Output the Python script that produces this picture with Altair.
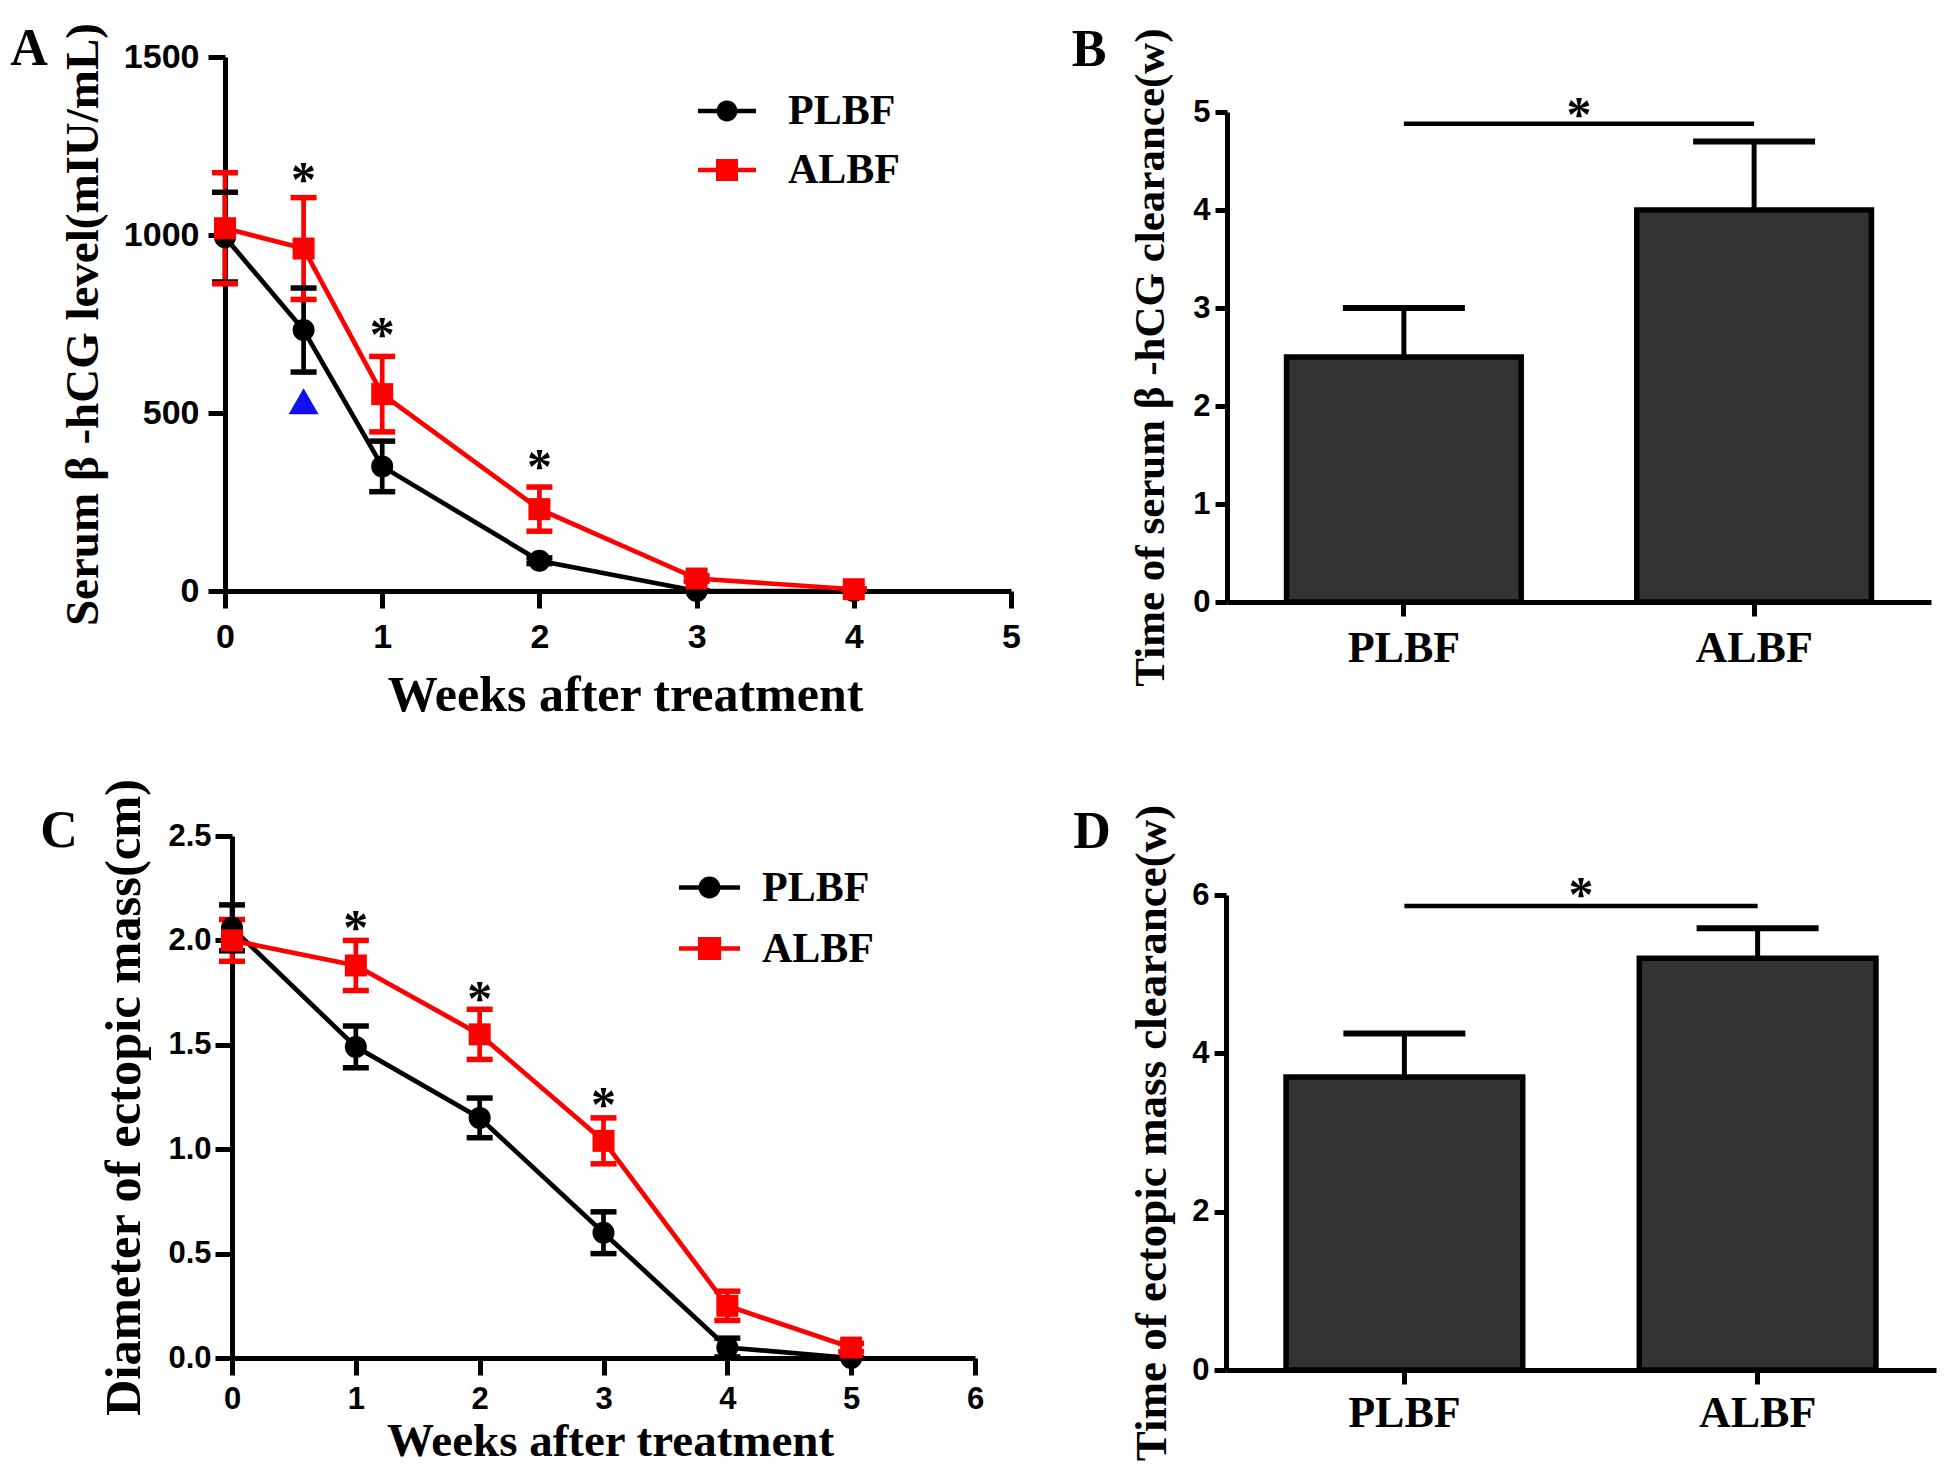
import altair as alt
import pandas as pd

# ---------------- data ----------------
SERIES = ["PLBF", "ALBF"]
SERIES_COLORS = ["#000000", "#ff0000"]
POINT_SHAPES = ["circle", "square"]
PANEL_LETTERS = ["A", "B", "C", "D"]

# Panel A: serum beta-hCG
A_WEEKS = [0, 0.5, 1, 2, 3, 4]
A_PLBF_MEAN = [994, 733, 350, 85, 0, 0]
A_PLBF_SD = [126, 118, 71, 8, 0, 0]
A_ALBF_MEAN = [1019, 962, 553, 230, 35, 5]
A_ALBF_SD = [156, 143, 106, 62, 8, 0]
A_STAR_WEEKS = [0.5, 1, 2]
A_STAR_LEVELS = [1176, 741, 370]
A_TRI_WEEKS = [0.5]
A_TRI_LEVELS = [533]
A_X_TICKS = [0, 1, 2, 3, 4, 5]
A_Y_TICKS = [0, 500, 1000, 1500]

# Panel C: ectopic mass diameter
C_WEEKS = [0, 1, 2, 3, 4, 5]
C_PLBF_MEAN = [2.06, 1.49, 1.15, 0.60, 0.05, 0.0]
C_PLBF_SD = [0.11, 0.10, 0.095, 0.10, 0.045, 0.0]
C_ALBF_MEAN = [2.00, 1.88, 1.55, 1.04, 0.25, 0.05]
C_ALBF_SD = [0.10, 0.12, 0.12, 0.11, 0.07, 0.02]
C_STAR_WEEKS = [1, 2, 3]
C_STAR_LEVELS = [2.10, 1.76, 1.25]
C_X_TICKS = [0, 1, 2, 3, 4, 5, 6]
C_Y_TICKS = [0, 0.5, 1.0, 1.5, 2.0, 2.5]

# Panel B: time of hCG clearance
B_MEAN = [2.5, 4.0]
B_SD = [0.5, 0.7]
B_SIG_LEVEL = [4.88]
B_STAR_LEVEL = [5.05]
B_Y_TICKS = [0, 1, 2, 3, 4, 5]

# Panel D: time of mass clearance
D_MEAN = [3.7, 5.2]
D_SD = [0.55, 0.38]
D_SIG_LEVEL = [5.86]
D_STAR_LEVEL = [6.10]
D_Y_TICKS = [0, 2, 4, 6]

# ---------------- layout / style ----------------
W, H = 1929, 1460
SANS = "Liberation Sans"
SERIF = "Liberation Serif"

LEG_CIRCLE = ("M-1,-0.075L-0.3,-0.075L-0.3,0.075L-1,0.075Z "
              "M0.3,-0.075L1,-0.075L1,0.075L0.3,0.075Z "
              "M0.36,0A0.36,0.36 0 1,1 -0.36,0A0.36,0.36 0 1,1 0.36,0Z")
LEG_SQUARE = ("M-1,-0.075L-0.3,-0.075L-0.3,0.075L-1,0.075Z "
              "M0.3,-0.075L1,-0.075L1,0.075L0.3,0.075Z "
              "M-0.38,-0.38L0.38,-0.38L0.38,0.38L-0.38,0.38Z")

AXIS_BASE = dict(grid=False, domainColor="black", tickColor="black", labelColor="black",
                 titleColor="black", domainWidth=5, tickWidth=5, labelFontWeight="bold",
                 titleFontWeight="bold", titleFont=SERIF, labelOverlap=False)

LAYOUT = {
    "A": dict(x_range=[217, 1003], y_range=[583, 49], x_dom=[0, 5], y_dom=[0, 1500],
              label_size=34, y_tick=17, y_label_pad=9, x_tick=17, x_label_pad=12,
              y_title_x=-142, y_title_size=47, x_title_x=617, x_title_y=119, x_title_size=50,
              pt_size=484, leg_x=690, leg_y=74, leg_size=3364, leg_label_off=32, leg_row=9),
    "C": dict(x_range=[224, 967], y_range=[1350, 828], x_dom=[0, 6], y_dom=[0, 2.5],
              label_size=31, y_tick=17, y_label_pad=4, x_tick=17, x_label_pad=9,
              y_title_x=-108, y_title_size=50.5, x_title_x=602, x_title_y=97, x_title_size=47,
              pt_size=484, leg_x=671, leg_y=849, leg_size=3721, leg_label_off=22, leg_row=9),
    "B": dict(x_range=[1219, 1923], y_range=[594, 104], y_dom=[0, 5], label_size=31,
              y_tick=12, y_label_pad=5, x_tick=14, x_label_pad=10, y_title_x=-77, y_title_size=43),
    "D": dict(x_range=[1218, 1928], y_range=[1362, 887], y_dom=[0, 6], label_size=31,
              y_tick=12, y_label_pad=5, x_tick=14, x_label_pad=7, y_title_x=-75, y_title_size=45),
}
LETTER_POS = {"A": (21, 41), "B": (1081, 42), "C": (51, 823), "D": (1084, 824)}
PAD_INNER, PAD_OUTER = 0.33, 0.17


def make_line_df(weeks, pm, psd, am, asd):
    rows = []
    for name, means, sds in ((SERIES[0], pm, psd), (SERIES[1], am, asd)):
        for w, m, s in zip(weeks, means, sds):
            rows.append({"week": w, "series": name, "mean": m, "lower": m - s, "upper": m + s})
    return pd.DataFrame(rows)


def line_panel(df, star_df, tri_df, lay, x_ticks, y_ticks, y_fmt, y_title, x_title):
    x_scale = alt.Scale(domain=lay["x_dom"], range=lay["x_range"], nice=False, zero=False)
    y_scale = alt.Scale(domain=lay["y_dom"], range=lay["y_range"], nice=False, zero=False)
    y_axis = alt.Axis(orient="left", offset=-lay["x_range"][0], values=y_ticks, format=y_fmt,
                      title=y_title, titleX=lay["y_title_x"], titleBaseline="middle",
                      titleFontSize=lay["y_title_size"], labelFont=SANS,
                      labelFontSize=lay["label_size"], labelPadding=lay["y_label_pad"],
                      tickSize=lay["y_tick"], **AXIS_BASE)
    x_axis = alt.Axis(orient="bottom", offset=lay["y_range"][0] - H, values=x_ticks, format="d",
                      title=x_title, titleX=lay["x_title_x"], titleY=lay["x_title_y"],
                      titleBaseline="alphabetic", titleFontSize=lay["x_title_size"],
                      labelFont=SANS, labelFontSize=lay["label_size"], labelPadding=lay["x_label_pad"],
                      tickSize=lay["x_tick"], labelFlush=False, **AXIS_BASE)
    X = alt.X("week:Q", scale=x_scale, axis=x_axis)

    def Y(f):
        return alt.Y(f, type="quantitative", scale=y_scale, axis=y_axis)

    col = alt.Color("series:N", scale=alt.Scale(domain=SERIES, range=SERIES_COLORS), legend=None)
    line = alt.Chart(df).mark_line(strokeWidth=4.7).encode(x=X, y=Y("mean"), color=col)
    rules = alt.Chart(df).mark_rule(strokeWidth=4.7).encode(x=X, y=Y("lower"), y2="upper:Q", color=col)
    caps = (alt.Chart(df).transform_fold(["lower", "upper"], as_=["bound", "level"])
            .mark_tick(orient="horizontal", size=26, thickness=5.5, opacity=1)
            .encode(x=X, y=Y("level"), color=col))
    points = alt.Chart(df).mark_point(filled=True, size=lay["pt_size"], opacity=1).encode(
        x=X, y=Y("mean"), color=col,
        shape=alt.Shape("series:N", scale=alt.Scale(domain=SERIES, range=POINT_SHAPES), legend=None))
    stars = alt.Chart(star_df).mark_text(text="*", font=SERIF, fontWeight="bold", fontSize=50,
                                         baseline="middle", align="center", dy=9, color="black").encode(
        x=X, y=Y("level"))
    layers = [line, rules, caps, points, stars]
    if tri_df is not None:
        tri = alt.Chart(tri_df).mark_point(shape="triangle-up", filled=True, color="#1010f0",
                                           size=900, opacity=1).encode(x=X, y=Y("level"))
        layers.append(tri)
    leg = alt.Legend(orient="none", legendX=lay["leg_x"], legendY=lay["leg_y"], title=None,
                     symbolSize=lay["leg_size"], symbolStrokeWidth=0, labelOffset=lay["leg_label_off"],
                     rowPadding=lay["leg_row"], labelFont=SERIF, labelFontSize=42,
                     labelFontWeight="bold", labelColor="black", padding=0)
    legend_layer = (alt.Chart(pd.DataFrame({"series": SERIES})).transform_filter("false")
                    .mark_point(filled=True, opacity=1, size=lay["leg_size"])
                    .encode(color=alt.Color("series:N", scale=alt.Scale(domain=SERIES, range=SERIES_COLORS), legend=leg),
                            shape=alt.Shape("series:N", scale=alt.Scale(domain=SERIES, range=[LEG_CIRCLE, LEG_SQUARE]), legend=leg)))
    layers.append(legend_layer)
    return alt.layer(*layers).resolve_scale(color="independent", shape="independent")


def bar_panel(means, sds, sig_level, star_level, lay, y_ticks, y_title):
    df = pd.DataFrame({"group": SERIES, "mean": means, "upper": [m + s for m, s in zip(means, sds)]})
    sig_df = pd.DataFrame({"start": [SERIES[0]], "end": [SERIES[1]], "level": sig_level, "star": star_level})
    x_scale = alt.Scale(domain=SERIES, range=lay["x_range"], paddingInner=PAD_INNER, paddingOuter=PAD_OUTER)
    y_scale = alt.Scale(domain=lay["y_dom"], range=lay["y_range"], nice=False, zero=False)
    # half of the gap between the two bars, so the star sits midway between their centres
    step = (lay["x_range"][1] - lay["x_range"][0]) / (len(SERIES) - PAD_INNER + 2 * PAD_OUTER)
    gap_half = step * PAD_INNER / 2
    y_axis = alt.Axis(orient="left", offset=-lay["x_range"][0], values=y_ticks, format="d",
                      title=y_title, titleX=lay["y_title_x"], titleBaseline="middle",
                      titleFontSize=lay["y_title_size"], labelFont=SANS,
                      labelFontSize=lay["label_size"], labelPadding=lay["y_label_pad"],
                      tickSize=lay["y_tick"], **AXIS_BASE)
    x_axis = alt.Axis(orient="bottom", offset=lay["y_range"][0] - H, title=None, labelAngle=0,
                      labelFont=SERIF, labelFontSize=44, labelPadding=lay["x_label_pad"],
                      tickSize=lay["x_tick"], **AXIS_BASE)

    def Xf(f, **kw):
        return alt.X(f, type="nominal", scale=x_scale, axis=x_axis, sort=SERIES, **kw)

    def Y(f):
        return alt.Y(f, type="quantitative", scale=y_scale, axis=y_axis)

    bars = alt.Chart(df).mark_bar(fill="#333333", stroke="black", strokeWidth=5.5).encode(
        x=Xf("group"), y=Y("mean"))
    whisker = alt.Chart(df).mark_rule(strokeWidth=5, color="black").encode(
        x=Xf("group"), y=Y("mean"), y2="upper:Q")
    cap = alt.Chart(df).mark_tick(orient="horizontal", size=122, thickness=6, color="black", opacity=1).encode(
        x=Xf("group"), y=Y("upper"))
    sig = alt.Chart(sig_df).mark_rule(strokeWidth=4.5, color="black").encode(
        x=Xf("start", bandPosition=0.5), x2="end:N", y=Y("level"))
    star = alt.Chart(sig_df).mark_text(text="*", font=SERIF, fontWeight="bold", fontSize=50,
                                       baseline="middle", align="center", dy=9, dx=gap_half,
                                       color="black").encode(
        x=Xf("start", bandPosition=1), y=Y("star"))
    return alt.layer(bars, whisker, cap, sig, star)


dfA = make_line_df(A_WEEKS, A_PLBF_MEAN, A_PLBF_SD, A_ALBF_MEAN, A_ALBF_SD)
dfC = make_line_df(C_WEEKS, C_PLBF_MEAN, C_PLBF_SD, C_ALBF_MEAN, C_ALBF_SD)
starA = pd.DataFrame({"week": A_STAR_WEEKS, "level": A_STAR_LEVELS})
starC = pd.DataFrame({"week": C_STAR_WEEKS, "level": C_STAR_LEVELS})
triA = pd.DataFrame({"week": A_TRI_WEEKS, "level": A_TRI_LEVELS})

panelA = line_panel(dfA, starA, triA, LAYOUT["A"], A_X_TICKS, A_Y_TICKS, "d",
                    "Serum β -hCG level(mIU/mL)", "Weeks after treatment")
panelC = line_panel(dfC, starC, None, LAYOUT["C"], C_X_TICKS, C_Y_TICKS, ".1f",
                    "Diameter of ectopic mass(cm)", "Weeks after treatment")
panelB = bar_panel(B_MEAN, B_SD, B_SIG_LEVEL, B_STAR_LEVEL, LAYOUT["B"], B_Y_TICKS,
                   "Time of serum β -hCG clearance(w)")
panelD = bar_panel(D_MEAN, D_SD, D_SIG_LEVEL, D_STAR_LEVEL, LAYOUT["D"], D_Y_TICKS,
                   "Time of ectopic mass clearance(w)")

letters = []
for L in PANEL_LETTERS:
    lx, ly = LETTER_POS[L]
    letters.append(alt.Chart(pd.DataFrame({"letter": [L]})).mark_text(
        font=SERIF, fontWeight="bold", fontSize=52, baseline="middle", align="center", color="black"
    ).encode(text="letter:N", x=alt.value(lx), y=alt.value(ly)))

chart = (alt.layer(panelA, panelB, panelC, panelD, *letters)
         .resolve_scale(x="independent", y="independent", color="independent", shape="independent")
         .resolve_axis(x="independent", y="independent")
         .resolve_legend(color="independent", shape="independent")
         .properties(width=W, height=H, autosize=alt.AutoSizeParams(type="none"), padding=0,
                     background="white")
         .configure_view(stroke=None))

chart.save("out.html", embed_options={"renderer": "svg", "actions": False})
